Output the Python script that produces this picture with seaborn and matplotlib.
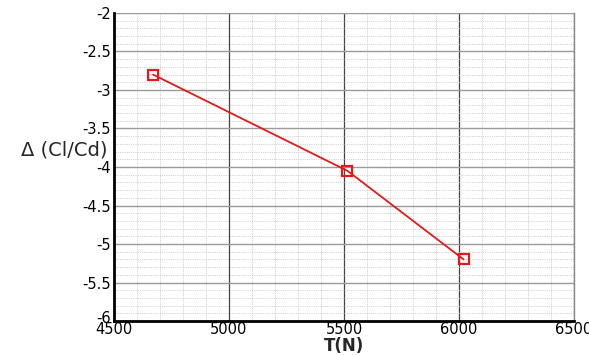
import matplotlib
matplotlib.use("Agg")
import matplotlib.pyplot as plt
import matplotlib.transforms as mtransforms
import seaborn as sns
import pandas as pd
from matplotlib.ticker import MultipleLocator

thrust = [4670, 5515, 6020]
delta_clcd = [-2.8, -4.05, -5.2]
xticks = [4500, 5000, 5500, 6000, 6500]
yticks = [-6, -5.5, -5, -4.5, -4, -3.5, -3, -2.5, -2]

df = pd.DataFrame({"T": thrust, "D": delta_clcd})

sns.set_style("white")
plt.rcParams['font.family'] = ['DejaVu Sans']

fig = plt.figure(figsize=(5.89, 3.56), dpi=100)
ax = fig.add_axes([0.1935, 0.0983, 0.781, 0.8652])

sns.lineplot(data=df, x="T", y="D", ax=ax, color="#e31a1c", linewidth=1.3,
             marker="s", markersize=7, markerfacecolor="none",
             markeredgecolor="#e31a1c", markeredgewidth=1.6, zorder=5)

ax.set_xlim(4500, 6500)
ax.set_ylim(-6, -2)
ax.set_xticks(xticks)
ax.set_yticks(yticks)
ax.set_yticklabels([f"{v:g}" for v in yticks])
ax.xaxis.set_minor_locator(MultipleLocator(100))
ax.yaxis.set_minor_locator(MultipleLocator(0.1))

ax.grid(which="minor", axis="both", color="#c4c4c4", linestyle=(0, (1, 1.2)), linewidth=0.6)
ax.grid(which="major", axis="x", color="#444444", linestyle="-", linewidth=0.9)
ax.grid(which="major", axis="y", color="#9a9a9a", linestyle="-", linewidth=1.0)
ax.set_axisbelow(True)

ax.spines["top"].set_visible(False)
ax.spines["right"].set_color("#888888")
ax.spines["right"].set_linewidth(1.0)
for s in ["left", "bottom"]:
    ax.spines[s].set_linewidth(2)
    ax.spines[s].set_color("black")

ax.tick_params(which="major", direction="in", length=6, width=2, labelsize=10.5, colors="black", pad=2)
ax.tick_params(which="minor", direction="in", length=3, width=1)
ax.tick_params(axis="x", pad=1)
ax.tick_params(right=False, which="both")

# nudge the "-6" label slightly up, as in the reference
lab = ax.get_yticklabels()[0]
lab.set_transform(lab.get_transform() + mtransforms.ScaledTranslation(0, 3 / 72, fig.dpi_scale_trans))

ax.set_xlabel("T(N)", fontsize=12, fontweight="bold", labelpad=0)
ax.set_ylabel("Δ (Cl/Cd)", fontsize=14, rotation=0, va="center", ha="right")
ax.yaxis.set_label_coords(-0.015, 0.555)

fig.savefig("out.png", dpi=100)
